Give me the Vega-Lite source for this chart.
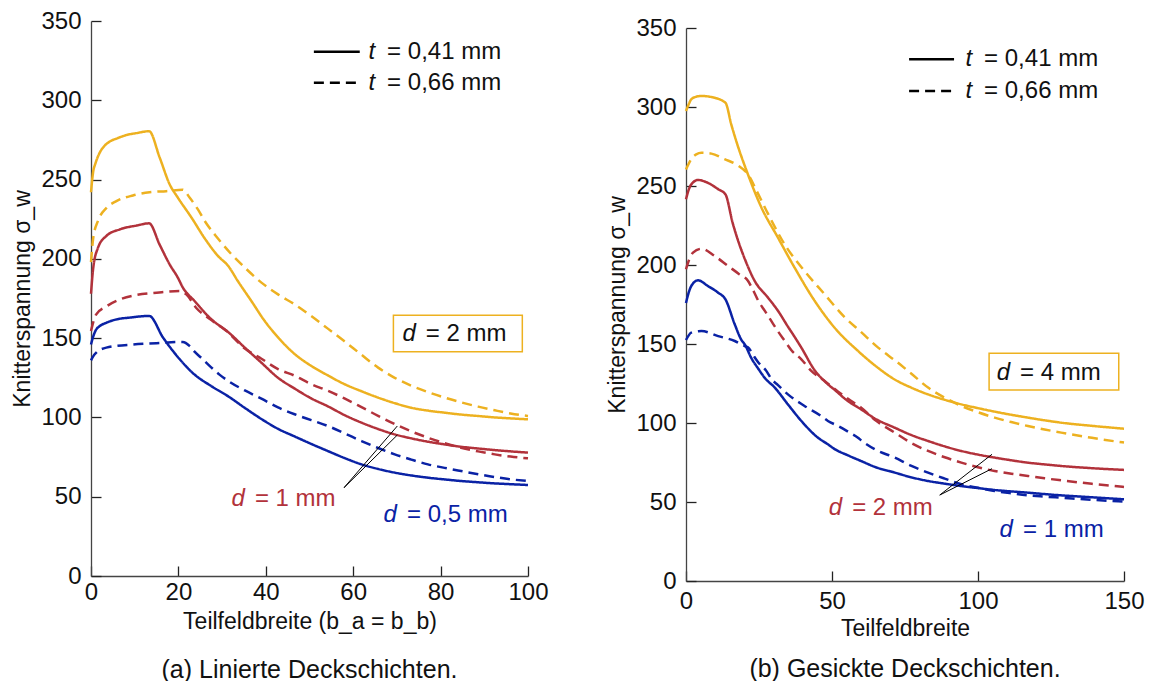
{
 "$schema": "https://vega.github.io/schema/vega-lite/v6.json",
 "padding": {"left": 11, "top": 9, "right": 5, "bottom": 0},
 "config": {
  "font": "Liberation Sans",
  "view": {"stroke": null},
  "axis": {"grid": false, "domainColor": "#444", "domainWidth": 1.3, "tickColor": "#222", "tickWidth": 1.3, "tickSize": -10, "labelFontSize": 24, "labelColor": "#111", "labelFlush": false, "titleFontSize": 23, "titleFontWeight": "normal", "titleColor": "#111", "labelPadding": 20, "titlePadding": 6},
  "title": {"fontSize": 25, "fontWeight": "normal", "color": "#111", "orient": "bottom", "offset": 25, "anchor": "middle"}
 },
 "datasets": {
  "a": [
   {"d":2,"t":"0,41 mm","x":0,"y":242},{"d":2,"t":"0,41 mm","x":0.5,"y":255},{"d":2,"t":"0,41 mm","x":1,"y":260},{"d":2,"t":"0,41 mm","x":2,"y":267},{"d":2,"t":"0,41 mm","x":3,"y":271},{"d":2,"t":"0,41 mm","x":4.3,"y":274},{"d":2,"t":"0,41 mm","x":6,"y":276},{"d":2,"t":"0,41 mm","x":8,"y":278},{"d":2,"t":"0,41 mm","x":10.4,"y":279.3},{"d":2,"t":"0,41 mm","x":13.3,"y":280.5},{"d":2,"t":"0,41 mm","x":15.7,"y":264},{"d":2,"t":"0,41 mm","x":18,"y":247},{"d":2,"t":"0,41 mm","x":19.9,"y":238.5},{"d":2,"t":"0,41 mm","x":23,"y":226},{"d":2,"t":"0,41 mm","x":26,"y":213},{"d":2,"t":"0,41 mm","x":29,"y":202},{"d":2,"t":"0,41 mm","x":31.4,"y":195.5},{"d":2,"t":"0,41 mm","x":33.6,"y":186},{"d":2,"t":"0,41 mm","x":36.7,"y":173.4},{"d":2,"t":"0,41 mm","x":39.7,"y":161},{"d":2,"t":"0,41 mm","x":42.8,"y":150.5},{"d":2,"t":"0,41 mm","x":46.6,"y":140},{"d":2,"t":"0,41 mm","x":50.4,"y":132.5},{"d":2,"t":"0,41 mm","x":54.2,"y":126.5},{"d":2,"t":"0,41 mm","x":58,"y":121},{"d":2,"t":"0,41 mm","x":61.9,"y":116.5},{"d":2,"t":"0,41 mm","x":65.7,"y":112.5},{"d":2,"t":"0,41 mm","x":69.5,"y":109},{"d":2,"t":"0,41 mm","x":73.3,"y":106.1},{"d":2,"t":"0,41 mm","x":77.1,"y":104.3},{"d":2,"t":"0,41 mm","x":80.9,"y":103},{"d":2,"t":"0,41 mm","x":84.7,"y":101.8},{"d":2,"t":"0,41 mm","x":88.6,"y":100.9},{"d":2,"t":"0,41 mm","x":92.4,"y":100},{"d":2,"t":"0,41 mm","x":96,"y":99.4},{"d":2,"t":"0,41 mm","x":100,"y":98.8},
   {"d":2,"t":"0,66 mm","x":0,"y":198},{"d":2,"t":"0,66 mm","x":0.5,"y":213},{"d":2,"t":"0,66 mm","x":1.6,"y":224},{"d":2,"t":"0,66 mm","x":3.5,"y":232},{"d":2,"t":"0,66 mm","x":5.8,"y":236.4},{"d":2,"t":"0,66 mm","x":9.6,"y":240},{"d":2,"t":"0,66 mm","x":13.4,"y":242},{"d":2,"t":"0,66 mm","x":17.2,"y":242.7},{"d":2,"t":"0,66 mm","x":21,"y":243.6},{"d":2,"t":"0,66 mm","x":22.6,"y":238.5},{"d":2,"t":"0,66 mm","x":24.5,"y":231},{"d":2,"t":"0,66 mm","x":26,"y":224},{"d":2,"t":"0,66 mm","x":29,"y":213},{"d":2,"t":"0,66 mm","x":32.1,"y":203},{"d":2,"t":"0,66 mm","x":35.2,"y":194.5},{"d":2,"t":"0,66 mm","x":39,"y":185},{"d":2,"t":"0,66 mm","x":42.8,"y":177.6},{"d":2,"t":"0,66 mm","x":46.6,"y":171.3},{"d":2,"t":"0,66 mm","x":50.4,"y":164},{"d":2,"t":"0,66 mm","x":54.2,"y":156},{"d":2,"t":"0,66 mm","x":58,"y":148},{"d":2,"t":"0,66 mm","x":61.9,"y":139.5},{"d":2,"t":"0,66 mm","x":65.7,"y":131.4},{"d":2,"t":"0,66 mm","x":69.5,"y":125},{"d":2,"t":"0,66 mm","x":73.3,"y":120},{"d":2,"t":"0,66 mm","x":77.1,"y":116},{"d":2,"t":"0,66 mm","x":80.9,"y":112.5},{"d":2,"t":"0,66 mm","x":84.7,"y":109.5},{"d":2,"t":"0,66 mm","x":88.6,"y":106.8},{"d":2,"t":"0,66 mm","x":92.4,"y":104.5},{"d":2,"t":"0,66 mm","x":96,"y":102.5},{"d":2,"t":"0,66 mm","x":100,"y":100.9},
   {"d":1,"t":"0,41 mm","x":0,"y":178},{"d":1,"t":"0,41 mm","x":0.5,"y":194},{"d":1,"t":"0,41 mm","x":1.6,"y":207},{"d":1,"t":"0,41 mm","x":3.5,"y":214.4},{"d":1,"t":"0,41 mm","x":6.6,"y":218.6},{"d":1,"t":"0,41 mm","x":10.4,"y":221},{"d":1,"t":"0,41 mm","x":13.3,"y":222.4},{"d":1,"t":"0,41 mm","x":15.7,"y":209},{"d":1,"t":"0,41 mm","x":18,"y":196.5},{"d":1,"t":"0,41 mm","x":19.9,"y":188},{"d":1,"t":"0,41 mm","x":21,"y":182},{"d":1,"t":"0,41 mm","x":23.7,"y":173.4},{"d":1,"t":"0,41 mm","x":27.5,"y":162},{"d":1,"t":"0,41 mm","x":31.4,"y":153.8},{"d":1,"t":"0,41 mm","x":35.2,"y":144},{"d":1,"t":"0,41 mm","x":39,"y":134.5},{"d":1,"t":"0,41 mm","x":42.8,"y":125},{"d":1,"t":"0,41 mm","x":46.6,"y":118.2},{"d":1,"t":"0,41 mm","x":50.4,"y":112},{"d":1,"t":"0,41 mm","x":54.2,"y":107},{"d":1,"t":"0,41 mm","x":58,"y":101.5},{"d":1,"t":"0,41 mm","x":61.9,"y":96.7},{"d":1,"t":"0,41 mm","x":65.7,"y":92.7},{"d":1,"t":"0,41 mm","x":69.5,"y":89.3},{"d":1,"t":"0,41 mm","x":73.3,"y":86.8},{"d":1,"t":"0,41 mm","x":77.1,"y":84.7},{"d":1,"t":"0,41 mm","x":80.9,"y":83},{"d":1,"t":"0,41 mm","x":84.7,"y":81.5},{"d":1,"t":"0,41 mm","x":88.6,"y":80.4},{"d":1,"t":"0,41 mm","x":92.4,"y":79.4},{"d":1,"t":"0,41 mm","x":96,"y":78.6},{"d":1,"t":"0,41 mm","x":100,"y":77.8},
   {"d":1,"t":"0,66 mm","x":0,"y":154.5},{"d":1,"t":"0,66 mm","x":0.5,"y":160},{"d":1,"t":"0,66 mm","x":1.2,"y":165},{"d":1,"t":"0,66 mm","x":3.5,"y":170},{"d":1,"t":"0,66 mm","x":6.6,"y":174.4},{"d":1,"t":"0,66 mm","x":10.4,"y":177.2},{"d":1,"t":"0,66 mm","x":15,"y":178.6},{"d":1,"t":"0,66 mm","x":20.3,"y":179.7},{"d":1,"t":"0,66 mm","x":21.8,"y":177.6},{"d":1,"t":"0,66 mm","x":24.1,"y":169},{"d":1,"t":"0,66 mm","x":27.2,"y":162},{"d":1,"t":"0,66 mm","x":31,"y":154.5},{"d":1,"t":"0,66 mm","x":35.2,"y":143.5},{"d":1,"t":"0,66 mm","x":39,"y":137},{"d":1,"t":"0,66 mm","x":42.8,"y":130.5},{"d":1,"t":"0,66 mm","x":46.6,"y":126.3},{"d":1,"t":"0,66 mm","x":50.4,"y":121},{"d":1,"t":"0,66 mm","x":54.2,"y":116.8},{"d":1,"t":"0,66 mm","x":58,"y":112},{"d":1,"t":"0,66 mm","x":61.9,"y":106.5},{"d":1,"t":"0,66 mm","x":65.7,"y":101},{"d":1,"t":"0,66 mm","x":69.5,"y":95.8},{"d":1,"t":"0,66 mm","x":73.3,"y":91.2},{"d":1,"t":"0,66 mm","x":77.1,"y":87.2},{"d":1,"t":"0,66 mm","x":80.9,"y":83.8},{"d":1,"t":"0,66 mm","x":84.7,"y":80.9},{"d":1,"t":"0,66 mm","x":88.6,"y":78.6},{"d":1,"t":"0,66 mm","x":92.4,"y":76.7},{"d":1,"t":"0,66 mm","x":96,"y":75.3},{"d":1,"t":"0,66 mm","x":100,"y":74.2},
   {"d":0.5,"t":"0,41 mm","x":0,"y":146},{"d":0.5,"t":"0,41 mm","x":0.5,"y":151},{"d":0.5,"t":"0,41 mm","x":1.2,"y":155.5},{"d":0.5,"t":"0,41 mm","x":2,"y":157.6},{"d":0.5,"t":"0,41 mm","x":3.5,"y":159.7},{"d":0.5,"t":"0,41 mm","x":5.8,"y":161.8},{"d":0.5,"t":"0,41 mm","x":9,"y":163},{"d":0.5,"t":"0,41 mm","x":13.3,"y":164},{"d":0.5,"t":"0,41 mm","x":16.5,"y":150.3},{"d":0.5,"t":"0,41 mm","x":19.9,"y":138},{"d":0.5,"t":"0,41 mm","x":23.5,"y":127.5},{"d":0.5,"t":"0,41 mm","x":27.5,"y":119.8},{"d":0.5,"t":"0,41 mm","x":31.4,"y":113.3},{"d":0.5,"t":"0,41 mm","x":35.2,"y":106},{"d":0.5,"t":"0,41 mm","x":39,"y":99},{"d":0.5,"t":"0,41 mm","x":42.8,"y":92.8},{"d":0.5,"t":"0,41 mm","x":46.6,"y":88},{"d":0.5,"t":"0,41 mm","x":50.4,"y":83.3},{"d":0.5,"t":"0,41 mm","x":54.2,"y":78.8},{"d":0.5,"t":"0,41 mm","x":58,"y":74.4},{"d":0.5,"t":"0,41 mm","x":61.9,"y":70.4},{"d":0.5,"t":"0,41 mm","x":65.7,"y":67.5},{"d":0.5,"t":"0,41 mm","x":69.5,"y":65.2},{"d":0.5,"t":"0,41 mm","x":73.3,"y":63.4},{"d":0.5,"t":"0,41 mm","x":77.1,"y":62},{"d":0.5,"t":"0,41 mm","x":80.9,"y":60.9},{"d":0.5,"t":"0,41 mm","x":84.7,"y":59.9},{"d":0.5,"t":"0,41 mm","x":88.6,"y":59.1},{"d":0.5,"t":"0,41 mm","x":92.4,"y":58.4},{"d":0.5,"t":"0,41 mm","x":96,"y":57.9},{"d":0.5,"t":"0,41 mm","x":100,"y":57.4},
   {"d":0.5,"t":"0,66 mm","x":0,"y":136},{"d":0.5,"t":"0,66 mm","x":0.5,"y":138.5},{"d":0.5,"t":"0,66 mm","x":1.2,"y":140.8},{"d":0.5,"t":"0,66 mm","x":3.5,"y":144},{"d":0.5,"t":"0,66 mm","x":9.6,"y":146},{"d":0.5,"t":"0,66 mm","x":15,"y":146.8},{"d":0.5,"t":"0,66 mm","x":21,"y":147.6},{"d":0.5,"t":"0,66 mm","x":22.6,"y":145},{"d":0.5,"t":"0,66 mm","x":23.7,"y":141.5},{"d":0.5,"t":"0,66 mm","x":25.6,"y":136.6},{"d":0.5,"t":"0,66 mm","x":27.5,"y":131.6},{"d":0.5,"t":"0,66 mm","x":29.4,"y":127},{"d":0.5,"t":"0,66 mm","x":31.4,"y":123},{"d":0.5,"t":"0,66 mm","x":35.2,"y":117},{"d":0.5,"t":"0,66 mm","x":39,"y":111.8},{"d":0.5,"t":"0,66 mm","x":42.8,"y":106.3},{"d":0.5,"t":"0,66 mm","x":46.6,"y":102},{"d":0.5,"t":"0,66 mm","x":50.4,"y":98.3},{"d":0.5,"t":"0,66 mm","x":54.2,"y":94.6},{"d":0.5,"t":"0,66 mm","x":58,"y":90},{"d":0.5,"t":"0,66 mm","x":61.9,"y":85.1},{"d":0.5,"t":"0,66 mm","x":65.7,"y":80.7},{"d":0.5,"t":"0,66 mm","x":69.5,"y":76.7},{"d":0.5,"t":"0,66 mm","x":73.3,"y":73.4},{"d":0.5,"t":"0,66 mm","x":77.1,"y":70.4},{"d":0.5,"t":"0,66 mm","x":80.9,"y":68.2},{"d":0.5,"t":"0,66 mm","x":84.7,"y":66.2},{"d":0.5,"t":"0,66 mm","x":88.6,"y":64.2},{"d":0.5,"t":"0,66 mm","x":92.4,"y":62.4},{"d":0.5,"t":"0,66 mm","x":96,"y":61},{"d":0.5,"t":"0,66 mm","x":100,"y":59.9}
  ],
  "b": [
   {"d":4,"t":"0,41 mm","x":0,"y":297.5},{"d":4,"t":"0,41 mm","x":1,"y":302},{"d":4,"t":"0,41 mm","x":1.8,"y":304.9},{"d":4,"t":"0,41 mm","x":3.5,"y":306.5},{"d":4,"t":"0,41 mm","x":5.3,"y":307},{"d":4,"t":"0,41 mm","x":8.7,"y":306.3},{"d":4,"t":"0,41 mm","x":13.5,"y":302.7},{"d":4,"t":"0,41 mm","x":15.5,"y":289},{"d":4,"t":"0,41 mm","x":17.2,"y":278.5},{"d":4,"t":"0,41 mm","x":21.2,"y":257.4},{"d":4,"t":"0,41 mm","x":25.8,"y":236.5},{"d":4,"t":"0,41 mm","x":31.5,"y":217.3},{"d":4,"t":"0,41 mm","x":37.2,"y":198.3},{"d":4,"t":"0,41 mm","x":44.1,"y":177.2},{"d":4,"t":"0,41 mm","x":50.9,"y":160.3},{"d":4,"t":"0,41 mm","x":58.9,"y":145.6},{"d":4,"t":"0,41 mm","x":65,"y":136},{"d":4,"t":"0,41 mm","x":71.5,"y":127.5},{"d":4,"t":"0,41 mm","x":77,"y":122.5},{"d":4,"t":"0,41 mm","x":82.9,"y":118.1},{"d":4,"t":"0,41 mm","x":88.6,"y":114.7},{"d":4,"t":"0,41 mm","x":94.3,"y":111.8},{"d":4,"t":"0,41 mm","x":100,"y":109.4},{"d":4,"t":"0,41 mm","x":105.7,"y":107.2},{"d":4,"t":"0,41 mm","x":111.4,"y":105.2},{"d":4,"t":"0,41 mm","x":117.1,"y":103.4},{"d":4,"t":"0,41 mm","x":122.8,"y":101.7},{"d":4,"t":"0,41 mm","x":128.5,"y":100.2},{"d":4,"t":"0,41 mm","x":139,"y":98.2},{"d":4,"t":"0,41 mm","x":150,"y":96.4},
   {"d":4,"t":"0,66 mm","x":0,"y":260.5},{"d":4,"t":"0,66 mm","x":1.8,"y":267},{"d":4,"t":"0,66 mm","x":3.5,"y":270},{"d":4,"t":"0,66 mm","x":5.3,"y":271},{"d":4,"t":"0,66 mm","x":8.7,"y":270.5},{"d":4,"t":"0,66 mm","x":13.2,"y":267},{"d":4,"t":"0,66 mm","x":17.8,"y":263},{"d":4,"t":"0,66 mm","x":21.2,"y":257.4},{"d":4,"t":"0,66 mm","x":24.7,"y":245},{"d":4,"t":"0,66 mm","x":28.2,"y":232},{"d":4,"t":"0,66 mm","x":33.8,"y":213},{"d":4,"t":"0,66 mm","x":40.6,"y":196.2},{"d":4,"t":"0,66 mm","x":47.5,"y":181.4},{"d":4,"t":"0,66 mm","x":54.3,"y":167},{"d":4,"t":"0,66 mm","x":60,"y":157.5},{"d":4,"t":"0,66 mm","x":65.8,"y":147.7},{"d":4,"t":"0,66 mm","x":72,"y":139},{"d":4,"t":"0,66 mm","x":77,"y":131.5},{"d":4,"t":"0,66 mm","x":82.9,"y":122.4},{"d":4,"t":"0,66 mm","x":88.6,"y":116},{"d":4,"t":"0,66 mm","x":94.3,"y":110.8},{"d":4,"t":"0,66 mm","x":100,"y":106.8},{"d":4,"t":"0,66 mm","x":105.7,"y":103.4},{"d":4,"t":"0,66 mm","x":111.4,"y":100.6},{"d":4,"t":"0,66 mm","x":117.1,"y":98.1},{"d":4,"t":"0,66 mm","x":122.8,"y":95.9},{"d":4,"t":"0,66 mm","x":128.5,"y":93.9},{"d":4,"t":"0,66 mm","x":139,"y":90.6},{"d":4,"t":"0,66 mm","x":150,"y":87.6},
   {"d":2,"t":"0,41 mm","x":0,"y":241.6},{"d":2,"t":"0,41 mm","x":1,"y":248},{"d":2,"t":"0,41 mm","x":1.8,"y":251},{"d":2,"t":"0,41 mm","x":4.1,"y":253.8},{"d":2,"t":"0,41 mm","x":7.5,"y":252},{"d":2,"t":"0,41 mm","x":11,"y":248},{"d":2,"t":"0,41 mm","x":13.5,"y":244.7},{"d":2,"t":"0,41 mm","x":16,"y":226.5},{"d":2,"t":"0,41 mm","x":18,"y":214.5},{"d":2,"t":"0,41 mm","x":20.1,"y":204},{"d":2,"t":"0,41 mm","x":23.5,"y":190},{"d":2,"t":"0,41 mm","x":28.1,"y":179.3},{"d":2,"t":"0,41 mm","x":31.5,"y":171},{"d":2,"t":"0,41 mm","x":34.9,"y":161},{"d":2,"t":"0,41 mm","x":37.2,"y":154.5},{"d":2,"t":"0,41 mm","x":39.5,"y":147.7},{"d":2,"t":"0,41 mm","x":44.1,"y":133.3},{"d":2,"t":"0,41 mm","x":48.6,"y":124.5},{"d":2,"t":"0,41 mm","x":50.9,"y":121},{"d":2,"t":"0,41 mm","x":55,"y":114.5},{"d":2,"t":"0,41 mm","x":60,"y":108.6},{"d":2,"t":"0,41 mm","x":65,"y":102.5},{"d":2,"t":"0,41 mm","x":71.5,"y":97},{"d":2,"t":"0,41 mm","x":77,"y":92.5},{"d":2,"t":"0,41 mm","x":82.9,"y":88.6},{"d":2,"t":"0,41 mm","x":88.6,"y":85.2},{"d":2,"t":"0,41 mm","x":94.3,"y":82.3},{"d":2,"t":"0,41 mm","x":100,"y":80},{"d":2,"t":"0,41 mm","x":105.7,"y":78.1},{"d":2,"t":"0,41 mm","x":111.4,"y":76.4},{"d":2,"t":"0,41 mm","x":117.1,"y":74.9},{"d":2,"t":"0,41 mm","x":122.8,"y":73.8},{"d":2,"t":"0,41 mm","x":128.5,"y":72.8},{"d":2,"t":"0,41 mm","x":139,"y":71.4},{"d":2,"t":"0,41 mm","x":150,"y":70.3},
   {"d":2,"t":"0,66 mm","x":0,"y":197.3},{"d":2,"t":"0,66 mm","x":1,"y":203},{"d":2,"t":"0,66 mm","x":2.4,"y":207.8},{"d":2,"t":"0,66 mm","x":5.3,"y":210.3},{"d":2,"t":"0,66 mm","x":9.8,"y":205.7},{"d":2,"t":"0,66 mm","x":14.4,"y":199.4},{"d":2,"t":"0,66 mm","x":18,"y":194.5},{"d":2,"t":"0,66 mm","x":21.2,"y":190},{"d":2,"t":"0,66 mm","x":23,"y":184},{"d":2,"t":"0,66 mm","x":25,"y":176.5},{"d":2,"t":"0,66 mm","x":27,"y":171},{"d":2,"t":"0,66 mm","x":29.2,"y":164.6},{"d":2,"t":"0,66 mm","x":31.5,"y":158},{"d":2,"t":"0,66 mm","x":33.8,"y":152},{"d":2,"t":"0,66 mm","x":36.1,"y":146},{"d":2,"t":"0,66 mm","x":39.5,"y":140.3},{"d":2,"t":"0,66 mm","x":42.9,"y":133},{"d":2,"t":"0,66 mm","x":47.5,"y":126.6},{"d":2,"t":"0,66 mm","x":52,"y":120},{"d":2,"t":"0,66 mm","x":56.6,"y":113.9},{"d":2,"t":"0,66 mm","x":60,"y":109.7},{"d":2,"t":"0,66 mm","x":65,"y":101.5},{"d":2,"t":"0,66 mm","x":71.5,"y":93.9},{"d":2,"t":"0,66 mm","x":77,"y":87.5},{"d":2,"t":"0,66 mm","x":82.9,"y":82.3},{"d":2,"t":"0,66 mm","x":88.6,"y":78.3},{"d":2,"t":"0,66 mm","x":94.3,"y":74.9},{"d":2,"t":"0,66 mm","x":100,"y":72},{"d":2,"t":"0,66 mm","x":105.7,"y":69.6},{"d":2,"t":"0,66 mm","x":111.4,"y":67.9},{"d":2,"t":"0,66 mm","x":117.1,"y":66.5},{"d":2,"t":"0,66 mm","x":122.8,"y":65},{"d":2,"t":"0,66 mm","x":128.5,"y":63.7},{"d":2,"t":"0,66 mm","x":139,"y":61.5},{"d":2,"t":"0,66 mm","x":150,"y":59.5},
   {"d":1,"t":"0,41 mm","x":0,"y":176},{"d":1,"t":"0,41 mm","x":1,"y":183},{"d":1,"t":"0,41 mm","x":1.8,"y":186.7},{"d":1,"t":"0,41 mm","x":4.1,"y":190.3},{"d":1,"t":"0,41 mm","x":7.5,"y":186.7},{"d":1,"t":"0,41 mm","x":11,"y":182.5},{"d":1,"t":"0,41 mm","x":13.5,"y":178.3},{"d":1,"t":"0,41 mm","x":16.7,"y":162.4},{"d":1,"t":"0,41 mm","x":19,"y":152.5},{"d":1,"t":"0,41 mm","x":20.1,"y":149.8},{"d":1,"t":"0,41 mm","x":22.4,"y":141},{"d":1,"t":"0,41 mm","x":24.7,"y":134.5},{"d":1,"t":"0,41 mm","x":27,"y":128.5},{"d":1,"t":"0,41 mm","x":30.4,"y":122.4},{"d":1,"t":"0,41 mm","x":34.9,"y":111.8},{"d":1,"t":"0,41 mm","x":39.5,"y":101.3},{"d":1,"t":"0,41 mm","x":45.2,"y":90.7},{"d":1,"t":"0,41 mm","x":48.6,"y":86.5},{"d":1,"t":"0,41 mm","x":50.9,"y":83.5},{"d":1,"t":"0,41 mm","x":55.5,"y":79.5},{"d":1,"t":"0,41 mm","x":60,"y":75.9},{"d":1,"t":"0,41 mm","x":65,"y":72},{"d":1,"t":"0,41 mm","x":71.5,"y":68.6},{"d":1,"t":"0,41 mm","x":77,"y":65.7},{"d":1,"t":"0,41 mm","x":82.9,"y":63.3},{"d":1,"t":"0,41 mm","x":88.6,"y":61.6},{"d":1,"t":"0,41 mm","x":94.3,"y":60.1},{"d":1,"t":"0,41 mm","x":100,"y":58.8},{"d":1,"t":"0,41 mm","x":105.7,"y":57.6},{"d":1,"t":"0,41 mm","x":111.4,"y":56.7},{"d":1,"t":"0,41 mm","x":117.1,"y":55.9},{"d":1,"t":"0,41 mm","x":122.8,"y":55},{"d":1,"t":"0,41 mm","x":128.5,"y":54.2},{"d":1,"t":"0,41 mm","x":139,"y":53},{"d":1,"t":"0,41 mm","x":150,"y":51.7},
   {"d":1,"t":"0,66 mm","x":0,"y":152.5},{"d":1,"t":"0,66 mm","x":1.8,"y":157.2},{"d":1,"t":"0,66 mm","x":4.1,"y":158},{"d":1,"t":"0,66 mm","x":5.3,"y":158.2},{"d":1,"t":"0,66 mm","x":11,"y":155},{"d":1,"t":"0,66 mm","x":16.7,"y":151.9},{"d":1,"t":"0,66 mm","x":20.1,"y":148.7},{"d":1,"t":"0,66 mm","x":21.2,"y":148},{"d":1,"t":"0,66 mm","x":23,"y":143},{"d":1,"t":"0,66 mm","x":24.7,"y":138.5},{"d":1,"t":"0,66 mm","x":27.5,"y":133},{"d":1,"t":"0,66 mm","x":29.2,"y":128},{"d":1,"t":"0,66 mm","x":31.5,"y":124},{"d":1,"t":"0,66 mm","x":34.9,"y":118.1},{"d":1,"t":"0,66 mm","x":40.6,"y":110.8},{"d":1,"t":"0,66 mm","x":46.3,"y":104.4},{"d":1,"t":"0,66 mm","x":48.6,"y":101.3},{"d":1,"t":"0,66 mm","x":52.1,"y":98.1},{"d":1,"t":"0,66 mm","x":55.5,"y":94.5},{"d":1,"t":"0,66 mm","x":58.9,"y":90.7},{"d":1,"t":"0,66 mm","x":60,"y":89},{"d":1,"t":"0,66 mm","x":65,"y":83},{"d":1,"t":"0,66 mm","x":71.5,"y":78.1},{"d":1,"t":"0,66 mm","x":77,"y":73},{"d":1,"t":"0,66 mm","x":82.9,"y":68.6},{"d":1,"t":"0,66 mm","x":88.6,"y":64.8},{"d":1,"t":"0,66 mm","x":94.3,"y":61.2},{"d":1,"t":"0,66 mm","x":100,"y":59},{"d":1,"t":"0,66 mm","x":105.7,"y":57},{"d":1,"t":"0,66 mm","x":111.4,"y":55.5},{"d":1,"t":"0,66 mm","x":117.1,"y":54.2},{"d":1,"t":"0,66 mm","x":122.8,"y":53.4},{"d":1,"t":"0,66 mm","x":128.5,"y":52.7},{"d":1,"t":"0,66 mm","x":139,"y":51.4},{"d":1,"t":"0,66 mm","x":150,"y":50.2}
  ],
  "a_box": [{"x1":69.2,"x2":98.7,"y1":141.4,"y2":164.4}],
  "a_boxtext": [{"x":75,"y":152.6,"rest":"= 2 mm"}],
  "a_labels": [{"d":1,"x":35.9,"y":48.5,"rest":"= 1 mm"},{"d":0.5,"x":70.7,"y":38.5,"rest":"= 0,5 mm"}],
  "a_lead": [{"x1":57.9,"y1":55.7,"x2":70.1,"y2":94.6},{"x1":57.9,"y1":55.7,"x2":70.1,"y2":88.9}],
  "a_leg": [{"t":"0,41 mm","x1":51,"x2":61.5,"y":330.6,"xt":65.7,"rest":"= 0,41 mm"},{"t":"0,66 mm","x1":51,"x2":61.5,"y":311,"xt":65.7,"rest":"= 0,66 mm"}],
  "b_box": [{"x1":103.8,"x2":148.2,"y1":120.9,"y2":144.1}],
  "b_boxtext": [{"x":112,"y":131.6,"rest":"= 4 mm"}],
  "b_labels": [{"d":2,"x":54.5,"y":46.2,"rest":"= 2 mm"},{"d":1,"x":113,"y":32.3,"rest":"= 1 mm"}],
  "b_lead": [{"x1":86.9,"y1":54.4,"x2":104.8,"y2":80.2},{"x1":86.9,"y1":54.4,"x2":104.8,"y2":71.1}],
  "b_leg": [{"t":"0,41 mm","x1":76.4,"x2":91.8,"y":330.2,"xt":99,"rest":"= 0,41 mm"},{"t":"0,66 mm","x1":76.4,"x2":91.8,"y":310.1,"xt":99,"rest":"= 0,66 mm"}],
  "empty": []
 },
 "bounds": "flush",
 "spacing": 158,
 "resolve": {"scale": {"x": "independent", "y": "independent", "color": "independent", "strokeDash": "independent"}},
 "hconcat": [
  {
   "width": 437, "height": 555,
   "title": {"text": "(a) Linierte Deckschichten."},
   "encoding": {
    "x": {"type": "quantitative", "scale": {"domain": [0, 100], "nice": false}, "axis": {"values": [0,20,40,60,80,100], "title": "Teilfeldbreite (b_a = b_b)", "labelPadding": 14}},
    "y": {"type": "quantitative", "scale": {"domain": [0, 350], "nice": false}, "axis": {"values": [0,50,100,150,200,250,300,350], "title": "Knitterspannung σ_w"}}
   },
   "layer": [
    {"data": {"name": "a"}, "mark": {"type": "line", "strokeWidth": 2.5, "interpolate": "monotone"},
     "encoding": {
      "x": {"field": "x", "type": "quantitative"},
      "y": {"field": "y", "type": "quantitative"},
      "color": {"field": "d", "type": "nominal", "scale": {"domain": [2, 1, 0.5], "range": ["#EDB120", "#B2323B", "#0A22A5"]}, "legend": null},
      "strokeDash": {"field": "t", "type": "nominal", "scale": {"domain": ["0,41 mm", "0,66 mm"], "range": [[1, 0], [10, 6]]}, "legend": null}
     }},
    {"data": {"name": "a_leg"}, "mark": {"type": "rule", "color": "black", "strokeWidth": 2.5},
     "encoding": {"x": {"field": "x1", "type": "quantitative"}, "x2": {"field": "x2"}, "y": {"field": "y", "type": "quantitative"}, "strokeDash": {"field": "t", "type": "nominal", "legend": null}}},
    {"data": {"name": "a_leg"}, "mark": {"type": "text", "fontSize": 24, "fontStyle": "italic", "align": "right", "dx": -3, "color": "#111"},
     "encoding": {"x": {"field": "xt", "type": "quantitative"}, "y": {"field": "y", "type": "quantitative"}, "text": {"value": "t"}}},
    {"data": {"name": "a_leg"}, "mark": {"type": "text", "fontSize": 24, "align": "left", "dx": 9, "color": "#111"},
     "encoding": {"x": {"field": "xt", "type": "quantitative"}, "y": {"field": "y", "type": "quantitative"}, "text": {"field": "rest"}}},
    {"data": {"name": "a_box"}, "mark": {"type": "rect", "fill": "white", "stroke": "#EDB120", "strokeWidth": 1.5},
     "encoding": {"x": {"field": "x1", "type": "quantitative"}, "x2": {"field": "x2"}, "y": {"field": "y1", "type": "quantitative"}, "y2": {"field": "y2"}}},
    {"data": {"name": "a_boxtext"}, "mark": {"type": "text", "fontSize": 24, "fontStyle": "italic", "align": "right", "dx": -3, "color": "#111"},
     "encoding": {"x": {"field": "x", "type": "quantitative"}, "y": {"field": "y", "type": "quantitative"}, "text": {"value": "d"}}},
    {"data": {"name": "a_boxtext"}, "mark": {"type": "text", "fontSize": 24, "align": "left", "dx": 7, "color": "#111"},
     "encoding": {"x": {"field": "x", "type": "quantitative"}, "y": {"field": "y", "type": "quantitative"}, "text": {"field": "rest"}}},
    {"data": {"name": "a_lead"}, "mark": {"type": "rule", "color": "black", "strokeWidth": 1},
     "encoding": {"x": {"field": "x1", "type": "quantitative"}, "y": {"field": "y1", "type": "quantitative"}, "x2": {"field": "x2"}, "y2": {"field": "y2"}}},
    {"data": {"name": "a_labels"}, "mark": {"type": "text", "fontSize": 24, "fontStyle": "italic", "align": "right", "dx": -3},
     "encoding": {"x": {"field": "x", "type": "quantitative"}, "y": {"field": "y", "type": "quantitative"}, "text": {"value": "d"}, "color": {"field": "d", "type": "nominal", "legend": null}}},
    {"data": {"name": "a_labels"}, "mark": {"type": "text", "fontSize": 24, "align": "left", "dx": 7},
     "encoding": {"x": {"field": "x", "type": "quantitative"}, "y": {"field": "y", "type": "quantitative"}, "text": {"field": "rest"}, "color": {"field": "d", "type": "nominal", "legend": null}}}
   ]
  },
  {
   "bounds": "flush",
   "spacing": 0,
   "vconcat": [
    {"width": 438, "height": 7, "data": {"name": "empty"}, "mark": {"type": "point", "opacity": 0}},
    {
     "width": 438, "height": 553,
     "title": {"text": "(b) Gesickte Deckschichten.", "offset": 17},
     "encoding": {
      "x": {"type": "quantitative", "scale": {"domain": [0, 150], "nice": false}, "axis": {"values": [0,50,100,150], "title": "Teilfeldbreite", "labelPadding": 18, "titlePadding": 4}},
      "y": {"type": "quantitative", "scale": {"domain": [0, 350], "nice": false}, "axis": {"values": [0,50,100,150,200,250,300,350], "title": "Knitterspannung σ_w"}}
     },
     "layer": [
      {"data": {"name": "b"}, "mark": {"type": "line", "strokeWidth": 2.5, "interpolate": "monotone"},
       "encoding": {
        "x": {"field": "x", "type": "quantitative"},
        "y": {"field": "y", "type": "quantitative"},
        "color": {"field": "d", "type": "nominal", "scale": {"domain": [4, 2, 1], "range": ["#EDB120", "#B2323B", "#0A22A5"]}, "legend": null},
        "strokeDash": {"field": "t", "type": "nominal", "scale": {"domain": ["0,41 mm", "0,66 mm"], "range": [[1, 0], [10, 6]]}, "legend": null}
       }},
      {"data": {"name": "b_leg"}, "mark": {"type": "rule", "color": "black", "strokeWidth": 2.5},
       "encoding": {"x": {"field": "x1", "type": "quantitative"}, "x2": {"field": "x2"}, "y": {"field": "y", "type": "quantitative"}, "strokeDash": {"field": "t", "type": "nominal", "legend": null}}},
      {"data": {"name": "b_leg"}, "mark": {"type": "text", "fontSize": 24, "fontStyle": "italic", "align": "right", "dx": -3, "color": "#111"},
       "encoding": {"x": {"field": "xt", "type": "quantitative"}, "y": {"field": "y", "type": "quantitative"}, "text": {"value": "t"}}},
      {"data": {"name": "b_leg"}, "mark": {"type": "text", "fontSize": 24, "align": "left", "dx": 9, "color": "#111"},
       "encoding": {"x": {"field": "xt", "type": "quantitative"}, "y": {"field": "y", "type": "quantitative"}, "text": {"field": "rest"}}},
      {"data": {"name": "b_box"}, "mark": {"type": "rect", "fill": "white", "stroke": "#EDB120", "strokeWidth": 1.5},
       "encoding": {"x": {"field": "x1", "type": "quantitative"}, "x2": {"field": "x2"}, "y": {"field": "y1", "type": "quantitative"}, "y2": {"field": "y2"}}},
      {"data": {"name": "b_boxtext"}, "mark": {"type": "text", "fontSize": 24, "fontStyle": "italic", "align": "right", "dx": -3, "color": "#111"},
       "encoding": {"x": {"field": "x", "type": "quantitative"}, "y": {"field": "y", "type": "quantitative"}, "text": {"value": "d"}}},
      {"data": {"name": "b_boxtext"}, "mark": {"type": "text", "fontSize": 24, "align": "left", "dx": 7, "color": "#111"},
       "encoding": {"x": {"field": "x", "type": "quantitative"}, "y": {"field": "y", "type": "quantitative"}, "text": {"field": "rest"}}},
      {"data": {"name": "b_lead"}, "mark": {"type": "rule", "color": "black", "strokeWidth": 1},
       "encoding": {"x": {"field": "x1", "type": "quantitative"}, "y": {"field": "y1", "type": "quantitative"}, "x2": {"field": "x2"}, "y2": {"field": "y2"}}},
      {"data": {"name": "b_labels"}, "mark": {"type": "text", "fontSize": 24, "fontStyle": "italic", "align": "right", "dx": -3},
       "encoding": {"x": {"field": "x", "type": "quantitative"}, "y": {"field": "y", "type": "quantitative"}, "text": {"value": "d"}, "color": {"field": "d", "type": "nominal", "legend": null}}},
      {"data": {"name": "b_labels"}, "mark": {"type": "text", "fontSize": 24, "align": "left", "dx": 7},
       "encoding": {"x": {"field": "x", "type": "quantitative"}, "y": {"field": "y", "type": "quantitative"}, "text": {"field": "rest"}, "color": {"field": "d", "type": "nominal", "legend": null}}}
     ]
    }
   ]
  }
 ]
}
